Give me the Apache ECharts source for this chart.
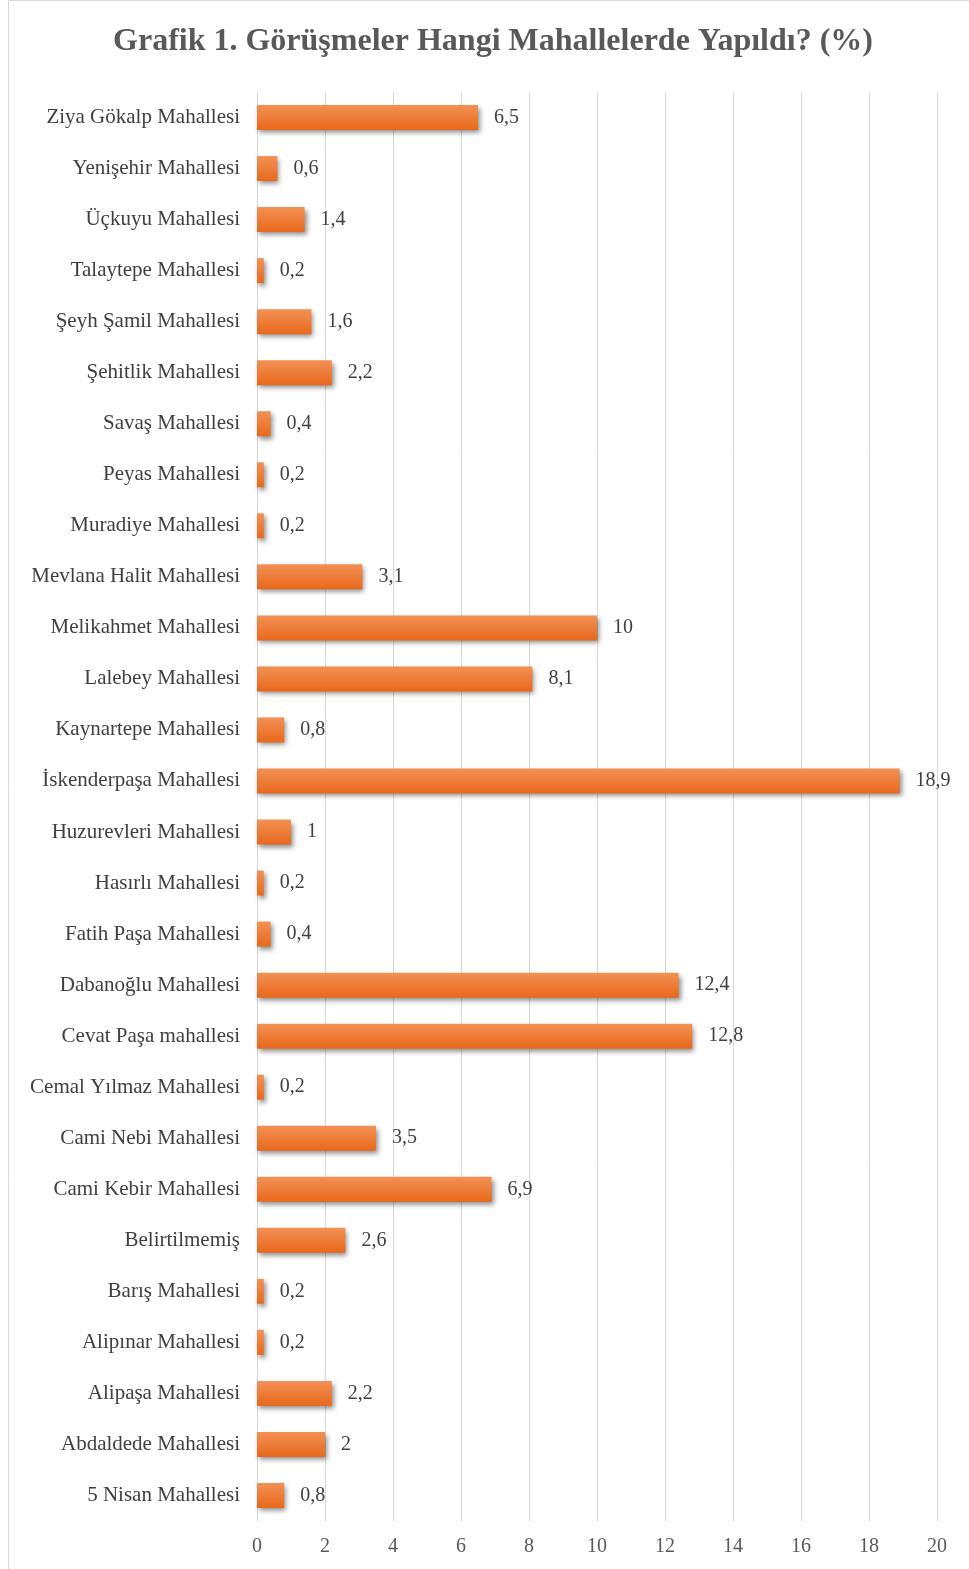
<!DOCTYPE html>
<html>
<head>
<meta charset="utf-8">
<script src="https://cdn.jsdelivr.net/npm/echarts@6/dist/echarts.min.js"></script>
<style>
  html, body { margin: 0; padding: 0; background: #fff; }
  #chart { width: 969px; height: 1569px; }
</style>
</head>
<body>
<div id="chart"></div>
<script>
// categories, top to bottom as in the picture
const neighbourhoods = [
  'Ziya Gökalp Mahallesi', 'Yenişehir Mahallesi', 'Üçkuyu Mahallesi', 'Talaytepe Mahallesi',
  'Şeyh Şamil Mahallesi', 'Şehitlik Mahallesi', 'Savaş Mahallesi', 'Peyas Mahallesi',
  'Muradiye Mahallesi', 'Mevlana Halit Mahallesi', 'Melikahmet Mahallesi', 'Lalebey Mahallesi',
  'Kaynartepe Mahallesi', 'İskenderpaşa Mahallesi', 'Huzurevleri Mahallesi', 'Hasırlı Mahallesi',
  'Fatih Paşa Mahallesi', 'Dabanoğlu Mahallesi', 'Cevat Paşa mahallesi', 'Cemal Yılmaz Mahallesi',
  'Cami Nebi Mahallesi', 'Cami Kebir Mahallesi', 'Belirtilmemiş', 'Barış Mahallesi',
  'Alipınar Mahallesi', 'Alipaşa Mahallesi', 'Abdaldede Mahallesi', '5 Nisan Mahallesi',
];
const percents = [
  6.5, 0.6, 1.4, 0.2,
  1.6, 2.2, 0.4, 0.2,
  0.2, 3.1, 10, 8.1,
  0.8, 18.9, 1, 0.2,
  0.4, 12.4, 12.8, 0.2,
  3.5, 6.9, 2.6, 0.2,
  0.2, 2.2, 2, 0.8,
];
const xTicks = [0, 2, 4, 6, 8, 10, 12, 14, 16, 18, 20];

const serif = '"Liberation Serif", "DejaVu Serif", serif';
const comma = v => String(v).replace('.', ',');

const chart = echarts.init(document.getElementById('chart'));
chart.setOption({
  animation: false,
  title: {
    text: 'Grafik 1. Görüşmeler Hangi Mahallelerde Yapıldı? (%)',
    left: 488,
    textAlign: 'center',
    top: 21,
    textStyle: { fontFamily: serif, fontWeight: 'bold', fontSize: 32, color: '#595959' },
  },
  graphic: [{
    type: 'rect',
    shape: { x: 8.5, y: 0.5, width: 970, height: 1580 },
    style: { fill: 'none', stroke: '#d9d9d9', lineWidth: 1 },
    silent: true,
  }],
  grid: { left: 257, right: 32, top: 92, bottom: 48 },
  xAxis: {
    type: 'value',
    min: xTicks[0],
    max: xTicks[xTicks.length - 1],
    interval: 2,
    axisLine: { show: false },
    axisTick: { show: false },
    splitLine: { lineStyle: { color: '#d9d9d9', width: 1 } },
    axisLabel: { fontFamily: serif, fontSize: 20, color: '#595959', margin: 16 },
  },
  yAxis: {
    type: 'category',
    inverse: true,
    data: neighbourhoods,
    axisLine: { show: true, lineStyle: { color: '#d9d9d9' } },
    axisTick: { show: false },
    axisLabel: { fontFamily: serif, fontSize: 21, color: '#404040', margin: 17 },
  },
  series: [{
    type: 'bar',
    data: percents,
    barWidth: 25,
    itemStyle: {
      color: new echarts.graphic.LinearGradient(0, 0, 0, 1, [
        { offset: 0, color: '#f39155' },
        { offset: 1, color: '#e8681b' },
      ]),
      shadowColor: 'rgba(0,0,0,0.45)',
      shadowBlur: 5,
      shadowOffsetX: 2,
      shadowOffsetY: 3,
    },
    label: {
      show: true,
      position: 'right',
      distance: 16,
      fontFamily: serif,
      fontSize: 20,
      color: '#404040',
      formatter: p => comma(p.value),
    },
  }],
});
</script>
</body>
</html>
